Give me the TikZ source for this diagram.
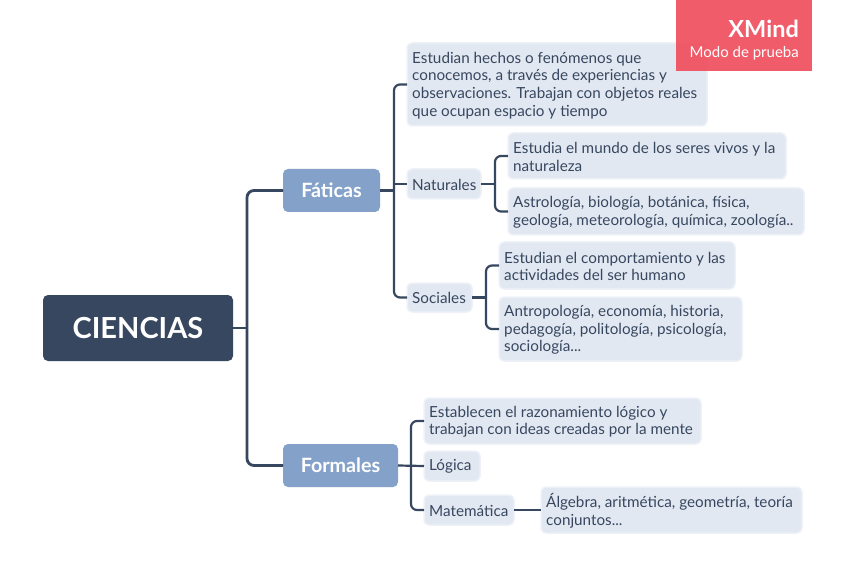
\documentclass[tikz,border=0pt]{standalone}
\usepackage{fontspec}
\setmainfont{Lato}
\usetikzlibrary{calc}
\definecolor{navy}{HTML}{374760}
\definecolor{midblue}{HTML}{84A1C9}
\definecolor{pale}{HTML}{E2E8F1}
\definecolor{paleedge}{HTML}{EEF2F8}
\definecolor{inktext}{HTML}{374760}
\definecolor{xred}{HTML}{F0505F}
\tikzset{
  x=1pt,y=-1pt,
  leaf/.style={draw=paleedge,line width=1.5pt,fill=pale,rounded corners=5pt,anchor=north west,inner xsep=0pt,inner ysep=0pt,outer sep=0pt,
    text=inktext},
  branch/.style={fill=midblue,rounded corners=5pt,text=white,inner sep=0pt,outer sep=0pt,font=\fontsize{19.7}{20}\selectfont\bfseries},
  conn/.style={draw=navy,line width=2.2pt,rounded corners=6pt},
  conn2/.style={draw=navy,line width=2.8pt,rounded corners=7pt},
}
\newcommand{\leafbox}[6]{%
  \node[leaf,minimum width=#3pt,minimum height=#4pt,align=left] (#1) at (#2) {};
  \node[anchor=west,inner sep=0pt,align=left,text=inktext,font=\fontsize{15.25}{17.7}\selectfont] (#1t) at ($(#1.west)+(#5,0.8)$) {#6};
}
\begin{document}
\begin{tikzpicture}
\useasboundingbox (0,0) rectangle (848,577);
\fill[white] (0,0) rectangle (848,577);

\node[fill=navy,rounded corners=5pt,minimum width=190pt,minimum height=66pt,inner sep=0pt,outer sep=0pt,text=white,font=\fontsize{29}{30}\selectfont\bfseries] (root) at (138,328) {CIENCIAS};
\node[branch,minimum width=97pt,minimum height=43pt] (fat) at (331.5,190.5) {Fáticas};
\node[branch,minimum width=115pt,minimum height=43pt] (form) at (340.5,465.5) {Formales};

\leafbox{nA}{407,43}{300}{83}{5}{Estudian hechos o fenómenos que\\conocemos, a través de experiencias y\\observaciones. Trabajan con objetos reales\\que ocupan espacio y tiempo}
\leafbox{nat}{407,169}{74}{30}{5}{Naturales}
\leafbox{nB}{508,133}{278}{46}{5}{Estudia el mundo de los seres vivos y la\\naturaleza}
\leafbox{nC}{508,188}{296}{47}{5}{Astrología, biología, botánica, física,\\geología, meteorología, química, zoología..}
\leafbox{soc}{407,283}{65}{29}{5}{Sociales}
\leafbox{nD}{499,242}{236}{47}{5}{Estudian el comportamiento y las\\actividades del ser humano}
\leafbox{nE}{499,297}{243}{64}{5}{Antropología, economía, historia,\\pedagogía, politología, psicología,\\sociología...}
\leafbox{nF}{424,398}{277}{46}{5}{Establecen el razonamiento lógico y\\trabajan con ideas creadas por la mente}
\leafbox{log}{424,451}{56}{30}{5}{Lógica}
\leafbox{mat}{424,495}{90}{30}{5}{Matemática}
\leafbox{nG}{541,487}{261}{46}{5}{Álgebra, aritmética, geometría, teoría\\conjuntos...}

\coordinate (tr0) at ($(root.east)+(14,0)$);
\draw[conn2] (root.east) -- (tr0);
\draw[conn2] (fat.west) -| (tr0) |- (form.west);

\coordinate (tr1) at ($(fat.east)+(14,0)$);
\draw[conn] (fat.east) -- (tr1);
\draw[conn] (nA.west) -| (tr1) |- (soc.west);
\draw[conn] (tr1 |- nat.west) -- (nat.west);

\coordinate (tr2) at ($(nat.east)+(14,0)$);
\draw[conn] (nat.east) -- (tr2);
\draw[conn] (nB.west) -| (tr2) |- (nC.west);

\coordinate (tr3) at ($(soc.east)+(14,0)$);
\draw[conn] (soc.east) -- (tr3);
\draw[conn] (nD.west) -| (tr3) |- (nE.west);

\coordinate (tr4) at ($(form.east)+(13,0)$);
\draw[conn] (form.east) -- (log.west);
\draw[conn] (nF.west) -| (tr4) |- (mat.west);

\draw[conn] (mat.east) -- (nG.west |- mat.east);

\node[fill=xred,fill opacity=.93,minimum width=136pt,minimum height=71pt,inner sep=0pt] (badge) at (744,35.5) {};
\node[anchor=base east,inner sep=0pt,text=white,font=\fontsize{23.5}{24}\selectfont\bfseries] (bt) at (799,38) {XMind};
\node[anchor=base east,inner sep=0pt,text=white,font=\fontsize{15}{16}\selectfont] (bs) at (799,58) {Modo de prueba};
\end{tikzpicture}
\end{document}
